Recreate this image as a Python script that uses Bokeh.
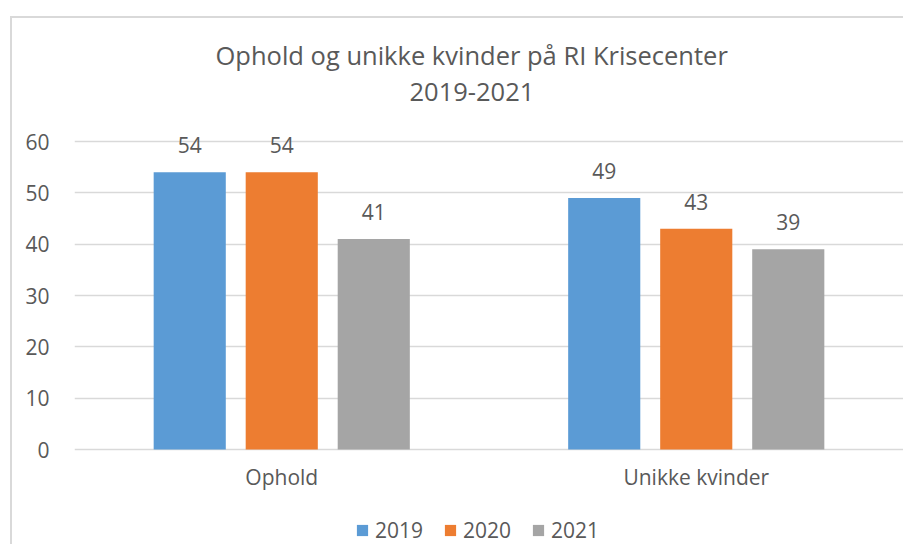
from bokeh.plotting import figure
from bokeh.models import ColumnDataSource, FactorRange, Range1d, Legend, LegendItem, Title
from bokeh.transform import dodge
from bokeh.core.properties import value
from bokeh.embed import file_html
from bokeh.resources import INLINE

categories = ["Ophold", "Unikke kvinder"]
years = ["2019", "2020", "2021"]
v2019 = [54, 49]
v2020 = [54, 43]
v2021 = [41, 39]
colors = ["#5B9BD5", "#ED7D31", "#A5A5A5"]
yticks = [0, 10, 20, 30, 40, 50, 60]

FONT = "Open Sans"
TXT = "#595959"

src = ColumnDataSource(dict(
    cat=categories,
    y2019=v2019, y2020=v2020, y2021=v2021,
    t2019=[str(v) for v in v2019],
    t2020=[str(v) for v in v2020],
    t2021=[str(v) for v in v2021],
))

# frame spans 125..544 px; value 0 at 449 px, 60 at 141 px
scale = 308 / 60.0
y_start = -(544 - 449) / scale
y_end = 60 + (141 - 125) / scale

p = figure(x_range=FactorRange(factors=categories), y_range=Range1d(y_start, y_end),
           width=903, height=544, output_backend="svg", toolbar_location=None,
           min_border_left=74, min_border_right=0, min_border_top=125, min_border_bottom=0)
# chart-area border (left and top edges visible, like the reference)
p.styles = {"background": "linear-gradient(#D9D9D9,#D9D9D9) 10px 16px / 2px 100% no-repeat, "
                          "linear-gradient(#D9D9D9,#D9D9D9) 10px 16px / 100% 2px no-repeat, white"}
p.outline_line_color = None
p.background_fill_alpha = 0
p.border_fill_alpha = 0

offsets = [-0.222, 0.0, 0.222]
bw = 0.174
renderers = []
for yr, off, col in zip(years, offsets, colors):
    r = p.vbar(x=dodge("cat", off, range=p.x_range), top="y" + yr, bottom=0, width=bw,
               source=src, fill_color=col, line_color=None)
    renderers.append(r)
    p.text(x=dodge("cat", off, range=p.x_range), y="y" + yr, text="t" + yr, source=src,
           text_align="center", text_baseline="alphabetic", y_offset=-27,
           text_font=value(FONT), text_font_size="21px", text_color=TXT)

# category labels under the baseline
p.text(x="cat", y=0, text="cat", source=src, text_align="center", text_baseline="alphabetic",
       y_offset=27, text_font=value(FONT), text_font_size="21px", text_color=TXT)

# axes
p.xaxis.visible = False
p.xgrid.grid_line_color = None
p.ygrid.grid_line_color = "#D9D9D9"
p.ygrid.grid_line_width = 1.3
p.yaxis.ticker = yticks
ax = p.yaxis[0]
ax.axis_line_color = None
ax.major_tick_line_color = None
ax.minor_tick_line_color = None
ax.major_tick_out = 0
ax.major_tick_in = 0
ax.major_label_text_font = FONT
ax.major_label_text_font_size = "21px"
ax.major_label_text_color = TXT
ax.major_label_standoff = 25

# titles
p.add_layout(Title(text="2019-2021", align="left", text_font=FONT, text_font_size="25.5px",
                   text_color=TXT, text_font_style="normal", offset=335, standoff=49), "above")
p.add_layout(Title(text="Ophold og unikke kvinder på RI Krisecenter", align="left", text_font=FONT,
                   text_font_size="25.5px", text_color=TXT, text_font_style="normal",
                   offset=141, standoff=-31), "above")

legend = Legend(items=[LegendItem(label=yr, renderers=[r]) for yr, r in zip(years, renderers)],
                orientation="horizontal", location=(281, 0),
                glyph_width=14, glyph_height=14, label_standoff=6, spacing=20,
                label_text_font=FONT, label_text_font_size="21px", label_text_color=TXT,
                border_line_color=None, background_fill_alpha=0, padding=0, margin=0)
p.add_layout(legend, "center")

open("out.html", "w").write(file_html(p, INLINE))
